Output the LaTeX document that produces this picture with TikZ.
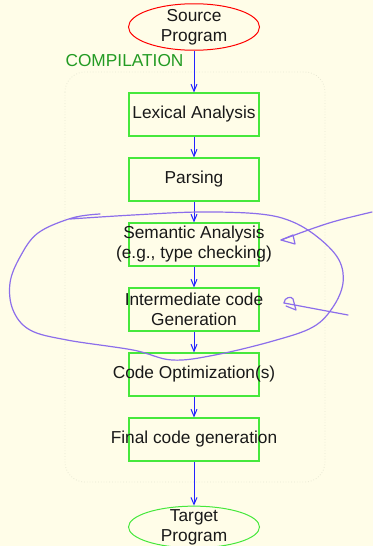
\documentclass[tikz,border=0pt]{standalone}
\usepackage{fontspec}
\setmainfont{Liberation Sans}
\usetikzlibrary{shapes.geometric,arrows.meta}

\definecolor{paper}{RGB}{255,253,232}
\definecolor{boxgreen}{RGB}{70,232,60}
\definecolor{titlegreen}{RGB}{35,155,35}
\definecolor{flowblue}{RGB}{35,35,255}
\definecolor{pen}{RGB}{140,110,235}
\definecolor{framegray}{RGB}{232,232,212}
\definecolor{ink}{RGB}{25,25,25}

\begin{document}
\begin{tikzpicture}[x=1pt,y=-1pt,
    phase/.style={draw=boxgreen,line width=1.1pt,minimum width=130pt,
      minimum height=43pt,inner xsep=-40pt,inner ysep=0pt,align=center},
    prog/.style={ellipse,line width=1pt,minimum width=131pt,inner xsep=0pt,
      align=center},
    flow/.style={draw=flowblue,line width=1pt,
      -{Straight Barb[length=7pt,width=6pt]}}]

  \fill[paper] (0,0) rectangle (373,546);
  \useasboundingbox (0,0) rectangle (373,546);

  \draw[framegray,dotted,line width=0.8pt,rounded corners=20pt]
    (65,72) rectangle (325,482);

  \begin{scope}[every node/.style={text=ink,font=\fontsize{17.3}{20}\selectfont}]
    \node[prog,draw=red,inner ysep=-1.4pt]     (src)  at (194,27)  {Source\\Program};
    \node[text=titlegreen]                     (comp) at (124.5,61) {COMPILATION};
    \node[phase] (lex)  at (194,114.5) {Lexical Analysis};
    \node[phase] (pars) at (194,179.5) {Parsing};
    \node[phase] (sem)  at (194,244.5) {Semantic Analysis\\(e.g., type checking)};
    \node[phase] (inter) at (194,309.5) {Intermediate code\\Generation};
    \node[phase] (opt)  at (194,374.5) {Code Optimization(s)};
    \node[phase] (fin)  at (194,439.5) {Final code generation};
    \node[prog,draw=boxgreen,inner ysep=-3pt] (tgt) at (194,527) {Target\\Program};
  \end{scope}

  \begin{scope}[every edge/.style={flow}]
    \path (src)   edge (lex);
    \path (lex)   edge (pars);
    \path (pars)  edge (sem);
    \path (sem)   edge (inter);
    \path (inter) edge (opt);
    \path (opt)   edge (fin);
    \path (fin)   edge (tgt);
  \end{scope}

  % hand-written marks
  \begin{scope}[draw=pen,line width=1.2pt,line cap=round,line join=round]
    \draw plot[smooth,tension=0.6] coordinates {(70,219) (133,215) (200,212)
      (260,214) (293,222) (320,239) (339,260) (343,283) (333,307) (313,327)
      (273,341) (215,355) (172,360) (133,350) (67,340) (30,330) (13,310)
      (10,283) (20,257) (38,233) (72,218) (100,214)};

    \coordinate (a1) at (372,212);
    \coordinate (h1) at (281,240);
    \draw (a1) .. controls (330,222) .. (h1);
    \draw (h1) -- (293,235) -- (295,244) -- cycle;

    \coordinate (a2) at (348,315);
    \coordinate (h2) at (284,303);
    \draw (a2) -- (h2);
    \draw (h2) .. controls (284,297) and (292,296) .. (293,299)
      -- (296,310) -- (286,306);
  \end{scope}

\end{tikzpicture}
\end{document}
